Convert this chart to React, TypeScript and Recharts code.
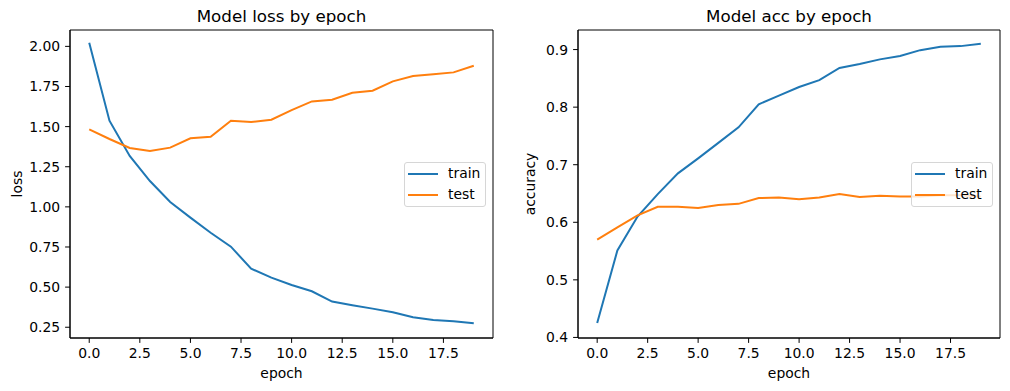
import React from "react";
import { LineChart, Line, XAxis, YAxis, Legend, ReferenceArea } from "recharts";

const epochs = [0, 1, 2, 3, 4, 5, 6, 7, 8, 9, 10, 11, 12, 13, 14, 15, 16, 17, 18, 19];

const trainLoss = [
  2.022, 1.537, 1.317, 1.161, 1.03, 0.933, 0.839, 0.752, 0.615, 0.559,
  0.513, 0.474, 0.41, 0.387, 0.366, 0.343, 0.312, 0.295, 0.287, 0.275,
];
const testLoss = [
  1.483, 1.423, 1.367, 1.348, 1.369, 1.427, 1.437, 1.537, 1.529, 1.543,
  1.603, 1.657, 1.668, 1.711, 1.724, 1.782, 1.815, 1.827, 1.838, 1.879,
];
const trainAcc = [
  0.425, 0.551, 0.61, 0.649, 0.685, 0.711, 0.738, 0.765, 0.805, 0.82,
  0.835, 0.847, 0.868, 0.875, 0.883, 0.889, 0.899, 0.905, 0.906, 0.91,
];
const testAcc = [
  0.57, 0.591, 0.612, 0.627, 0.627, 0.625, 0.63, 0.632, 0.642, 0.643,
  0.64, 0.643, 0.649, 0.644, 0.646, 0.645, 0.645, 0.647, 0.647, 0.645,
];

const seriesNames = ["train", "test"];
const xTicks = [0, 2.5, 5, 7.5, 10, 12.5, 15, 17.5];
const lossTicks = [0.25, 0.5, 0.75, 1.0, 1.25, 1.5, 1.75, 2.0];
const accTicks = [0.4, 0.5, 0.6, 0.7, 0.8, 0.9];

const lossData = epochs.map((e, i) => ({ epoch: e, train: trainLoss[i], test: testLoss[i] }));
const accData = epochs.map((e, i) => ({ epoch: e, train: trainAcc[i], test: testAcc[i] }));

const FONT = "DejaVu Sans";
const tickStyle = { fontSize: 13.9, fill: "#000", fontFamily: FONT };
const xDomain: [number, number] = [-0.95, 19.95];

const YTitle = ({ text, lx, ly }: any) => (
  <text
    x={lx}
    y={ly}
    transform={`rotate(-90 ${lx} ${ly})`}
    textAnchor="middle"
    fontSize={13.9}
    fontFamily={FONT}
    fill="#000"
  >
    {text}
  </text>
);

const LegendBox = ({ payload }: any) => {
  const items = seriesNames
    .map((n) => (payload || []).find((p: any) => p.value === n))
    .filter(Boolean);
  return (
    <div
      style={{
        position: "relative",
        width: 82,
        height: 45,
        boxSizing: "border-box",
        border: "1px solid #d6d6d6",
        borderRadius: 3,
        background: "rgba(255,255,255,0.8)",
        fontFamily: FONT,
        fontSize: 13.9,
      }}
    >
      {items.map((p: any, i: number) => (
        <div key={p.value} style={{ position: "absolute", left: 3, top: 2 + i * 20.5, height: 17, width: 78 }}>
          <div style={{ position: "absolute", left: 0, top: 8, width: 30, height: 2, background: p.color }} />
          <span style={{ position: "absolute", left: 40, top: 0, lineHeight: "17px", color: "#000" }}>
            {p.value}
          </span>
        </div>
      ))}
    </div>
  );
};

type PanelProps = {
  left: number;
  title: string;
  data: any[];
  yDomain: [number, number];
  yTicks: number[];
  digits: number;
  yLabel: string;
  yLabelX: number;
  yWidth: number;
  right: number;
  legendLeft: number;
};

const Panel = ({ left, title, data, yDomain, yTicks, digits, yLabel, yLabelX, yWidth, right, legendLeft }: PanelProps) => (
  <div style={{ position: "absolute", left, top: 0, width: 505, height: 391 }}>
    <LineChart width={505} height={391} data={data} margin={{ top: 30, right, bottom: 13, left: 0 }}>
      <XAxis
        dataKey="epoch"
        type="number"
        domain={xDomain}
        allowDataOverflow
        ticks={xTicks}
        tickFormatter={(v) => v.toFixed(1)}
        tick={tickStyle}
        tickSize={4.9}
        tickMargin={5}
        height={40}
        stroke="#000"
        label={{ value: "epoch", position: "insideBottom", offset: 0, fill: "#000", fontSize: 13.9, fontFamily: FONT }}
      />
      <YAxis
        type="number"
        domain={yDomain}
        allowDataOverflow
        ticks={yTicks}
        tickFormatter={(v) => v.toFixed(digits)}
        tick={tickStyle}
        tickSize={4.9}
        tickMargin={5}
        width={yWidth}
        stroke="#000"
        label={<YTitle text={yLabel} lx={yLabelX} ly={184} />}
      />
      <ReferenceArea
        x1={xDomain[0]}
        x2={xDomain[1]}
        y1={yDomain[0]}
        y2={yDomain[1]}
        fill="none"
        fillOpacity={0}
        stroke="#000"
        strokeWidth={1}
        ifOverflow="visible"
        label={{ value: title, position: "top", offset: 8, fill: "#000", fontSize: 16.7, fontFamily: FONT }}
      />
      <Legend
        layout="horizontal"
        verticalAlign="middle"
        align="center"
        content={<LegendBox />}
        wrapperStyle={{ position: "absolute", left: legendLeft, top: 162, width: 82, height: 45 }}
      />
      <Line type="linear" dataKey="train" name="train" stroke="#1f77b4" strokeWidth={2} dot={false} isAnimationActive={false} />
      <Line type="linear" dataKey="test" name="test" stroke="#ff7f0e" strokeWidth={2} dot={false} isAnimationActive={false} />
    </LineChart>
  </div>
);

export default function App() {
  return (
    <div style={{ position: "absolute", left: 0, top: 0, width: 1010, height: 391, background: "#fff", fontFamily: FONT }}>
      <Panel
        left={0}
        title="Model loss by epoch"
        data={lossData}
        yDomain={[0.183, 2.102]}
        yTicks={lossTicks}
        digits={2}
        yLabel="loss"
        yLabelX={22}
        yWidth={70}
        right={12}
        legendLeft={404}
      />
      <Panel
        left={505}
        title="Model acc by epoch"
        data={accData}
        yDomain={[0.399, 0.934]}
        yTicks={accTicks}
        digits={1}
        yLabel="accuracy"
        yLabelX={30}
        yWidth={73}
        right={10}
        legendLeft={406}
      />
    </div>
  );
}
